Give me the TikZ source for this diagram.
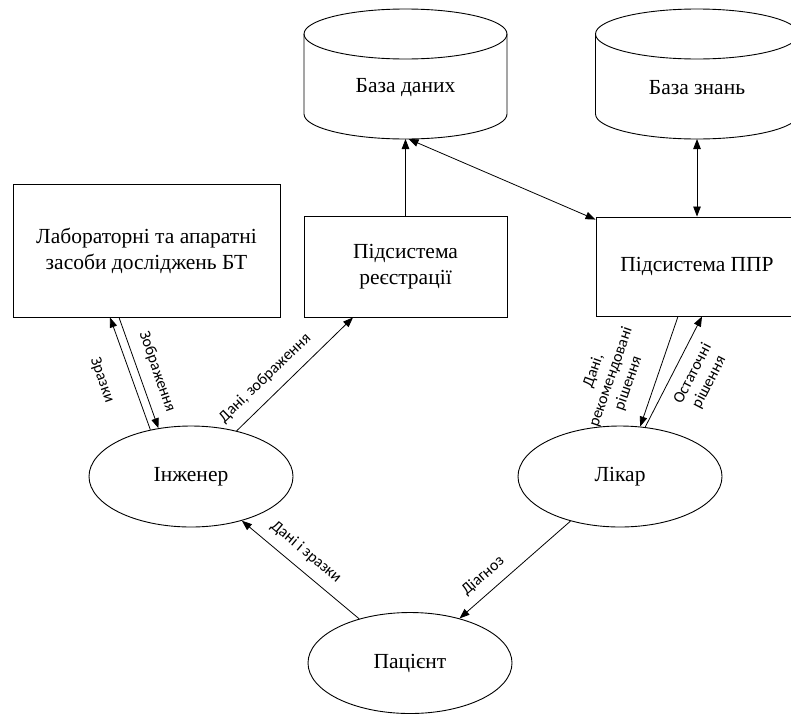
\documentclass[tikz,border=0pt]{standalone}
\usepackage{fontspec}
\setmainfont{Liberation Serif}
\newfontfamily\lblfont{Carlito}
\usetikzlibrary{arrows.meta,shapes.geometric,calc}
\newcommand\cylout[1]{%
  \draw[line width=0.9pt] ([shift={(-101.5pt,54pt)}]#1.center)
    arc[start angle=180,end angle=0,x radius=101.5pt,y radius=25pt]
    -- ([shift={(101.5pt,-26pt)}]#1.center)
    arc[start angle=0,end angle=-180,x radius=101.5pt,y radius=25pt] -- cycle;
  \draw[line width=0.9pt] ([shift={(-101.5pt,54pt)}]#1.center)
    arc[start angle=180,end angle=360,x radius=101.5pt,y radius=25pt];}
\begin{document}
\begin{tikzpicture}[x=1pt,y=-1pt,
  txt/.style={font=\fontsize{21.5}{26}\selectfont, align=center, inner sep=0pt},
  boxnode/.style={txt, draw, line width=0.9pt, rectangle},
  ellnode/.style={txt, draw, line width=0.9pt, ellipse, minimum width=204pt, minimum height=101pt},
  lbl/.style={font=\lblfont\fontsize{16}{18.5}\selectfont, align=center, inner sep=0pt},
  arr/.style={line width=0.8pt, -{Triangle[length=10pt,width=7.5pt]}},
  darr/.style={line width=0.8pt, {Triangle[length=10pt,width=7.5pt]}-{Triangle[length=10pt,width=7.5pt]}}]
\clip (0,0) rectangle (791,715);
\fill[white] (0,0) rectangle (791,715);

% storage
\node[txt] (db) at (405.5,88) {База даних};
\node[txt] (kb) at (697,88) {База знань};
\cylout{db}
\cylout{kb}
\coordinate (dbb) at ([yshift=-51pt]db.center);
\coordinate (kbb) at ([yshift=-51pt]kb.center);

% boxes
\node[boxnode, minimum width=267pt, minimum height=133pt] (lab) at (146.5,250.5)
  {Лабораторні та апаратні\\засоби досліджень БТ};
\node[boxnode, minimum width=203pt, minimum height=100.5pt] (reg) at (405.5,266.75)
  {Підсистема\\реєстрації};
\node[boxnode, minimum width=202pt, minimum height=99pt] (ppr) at (697,266.5)
  {Підсистема ППР};

% actors
\node[ellnode] (eng) at (191,476.5) {Інженер};
\node[ellnode] (lik) at (620,476.5) {Лікар};
\node[ellnode] (pat) at (410,663) {Пацієнт};

% connectors
\draw[arr] (reg.north) -- (dbb);
\draw[darr] ([xshift=3pt]dbb) -- ([yshift=-3pt]ppr.north west);
\draw[darr] (kbb) -- (ppr.north);
\draw[arr] (eng.131) -- ([xshift=-36.5pt]lab.south);
\draw[arr] ([xshift=-27.5pt]lab.south) -- (eng.124);
\draw[arr] (eng.45) -- (reg.-136);
\draw[arr] ([xshift=-19pt]ppr.south) -- (lik.68);
\draw[arr] (lik.63) -- ([xshift=5pt]ppr.south);
\draw[arr] (pat.139) -- (eng.-41);
\draw[arr] (lik.222) -- (pat.42.6);

% labels
\node[lbl, rotate=-70.8] (lzr) at (102,380) {Зразки};
\node[lbl, rotate=-70.8] (lzo) at (157,372) {Зображення};
\node[lbl, rotate=44] (ldz) at (265,378) {Дані, зображення};
\node[lbl, rotate=70.8] (ldr) at (611,377) {Дані,\\рекомендовані\\рішення};
\node[lbl, rotate=62.6] (los) at (701,378) {Остаточні\\рішення};
\node[lbl, rotate=-40] (ldi) at (306,552) {Дані і зразки};
\node[lbl, rotate=41] (ldg) at (483,576) {Діагноз};
\end{tikzpicture}
\end{document}
